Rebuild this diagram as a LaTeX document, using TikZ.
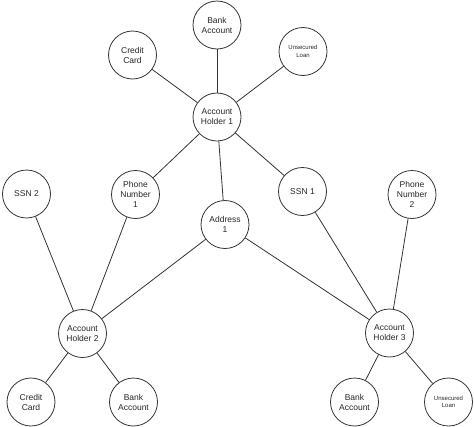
\documentclass[tikz,border=0pt]{standalone}
\usepackage{fontspec}
\setmainfont{Liberation Sans}
\begin{document}
\begin{tikzpicture}[x=1pt,y=-1pt,
  ent/.style={circle,draw=black!80,line width=0.8pt,minimum size=48pt,inner sep=0pt,align=center,
     font=\fontsize{8.5}{10}\selectfont,text=black!85},
  small/.style={font=\fontsize{6}{7.5}\selectfont},
  link/.style={draw=black!80,line width=0.8pt}]
\useasboundingbox (0,0) rectangle (474,426);
\node[ent] (ba1) at (217,25) {Bank\\Account};
\node[ent] (cc1) at (132.5,55) {Credit\\Card};
\node[ent,small] (ul1) at (303,51.5) {Unsecured\\Loan};
\node[ent] (ah1) at (217,117) {Account\\Holder 1};
\node[ent] (ssn2) at (26.5,194) {SSN 2};
\node[ent] (pn1) at (135.5,194.5) {Phone\\Number\\1};
\node[ent] (ssn1) at (302.5,191.5) {SSN 1};
\node[ent] (pn2) at (412,194.5) {Phone\\Number\\2};
\node[ent] (ad1) at (225,224.5) {Address\\1};
\node[ent] (ah2) at (82.5,333.5) {Account\\Holder 2};
\node[ent] (ah3) at (389.5,333) {Account\\Holder 3};
\node[ent] (cc2) at (31,402) {Credit\\Card};
\node[ent] (ba2) at (133.5,402) {Bank\\Account};
\node[ent] (ba3) at (354.5,402) {Bank\\Account};
\node[ent,small] (ul3) at (448.5,402) {Unsecured\\Loan};
\path[link] (ba1) -- (ah1);
\path[link] (cc1) -- (ah1);
\path[link] (ul1) -- (ah1);
\path[link] (ah1) -- (pn1);
\path[link] (ah1) -- (ad1);
\path[link] (ah1) -- (ssn1);
\path[link] (ssn2) -- (ah2);
\path[link] (pn1) -- (ah2);
\path[link] (ad1) -- (ah2);
\path[link] (ad1) -- (ah3);
\path[link] (ssn1) -- (ah3);
\path[link] (pn2) -- (ah3);
\path[link] (ah2) -- (cc2);
\path[link] (ah2) -- (ba2);
\path[link] (ah3) -- (ba3);
\path[link] (ah3) -- (ul3);
\end{tikzpicture}
\end{document}
